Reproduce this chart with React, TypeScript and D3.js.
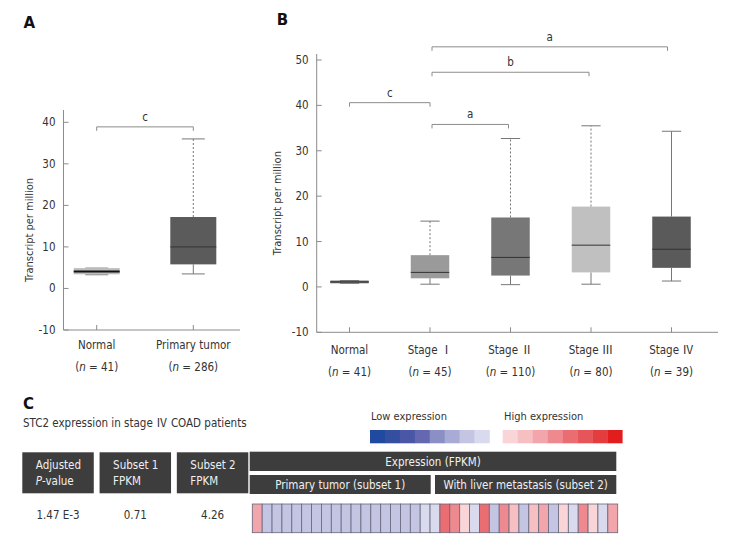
import * as d3 from "d3";

const FONT = "'DejaVu Sans Condensed', 'DejaVu Sans', sans-serif";
const CJK = "'Noto Sans CJK SC', 'Noto Sans CJK JP', sans-serif";
const TEXT = "#333333";
const AXIS = "#8c8c8c";

// Panel A: normal vs primary tumor
const tumorGroups = ["Normal", "Primary tumor"];
const tumorCounts = [41, 286];
const tumorLow = [3.3, 3.5];
const tumorQ1 = [3.4, 5.8];
const tumorMedian = [4.1, 10.0];
const tumorQ3 = [4.9, 17.2];
const tumorHigh = [4.9, 36.0];
const tumorFill = ["#bdbdbd", "#5b5b5b"];
const tumorDotted = [false, true];
const tumorTicks = [-10, 0, 10, 20, 30, 40];
const tumorBrackets = [{ from: 0, to: 1, value: 38.9, label: "c" }];

// Panel B: stages
const stageGroups = ["Normal", "Stage Ⅰ", "Stage Ⅱ", "Stage Ⅲ", "Stage Ⅳ"];
const stageCounts = [41, 45, 110, 80, 39];
const stageLow = [0.8, 0.6, 0.5, 0.6, 1.3];
const stageQ1 = [0.8, 1.9, 2.5, 3.2, 4.2];
const stageMedian = [1.1, 3.2, 6.5, 9.2, 8.3];
const stageQ3 = [1.4, 7.0, 15.3, 17.7, 15.5];
const stageHigh = [1.4, 14.5, 32.7, 35.5, 34.3];
const stageFill = ["#6a6a6a", "#9a9a9a", "#777777", "#c0c0c0", "#5a5a5a"];
const stageDotted = [false, true, true, true, false];
const stageTicks = [-10, 0, 10, 20, 30, 40, 50];
const stageBrackets = [
  { from: 0, to: 1, value: 40.6, label: "c" },
  { from: 1, to: 2, value: 35.8, label: "a" },
  { from: 1, to: 3, value: 47.3, label: "b" },
  { from: 1, to: 4, value: 52.9, label: "a" },
];

// Panel C: heatmap
const lowColors = ["#1f4a9f", "#344f9f", "#4a56a6", "#6468b1", "#8a8fc6", "#a8abd6", "#c3c5e3", "#d9daee"];
const highColors = ["#f9d5d7", "#f6c0c3", "#f2a5aa", "#ee8a8f", "#ea6d72", "#e65559", "#e33d40", "#e21d1e"];
// negative = low expression level (-1 lightest), positive = high expression level
const heatLevels = [
  3, -2, -2, -2, -2, -2, -2, -2, -2, -2, -2, -2, -2, -2, -2, -2, -2, -1, -1,
  5, 4, 1, -1, 5, -2, 4, 2, -2, 2, 3, -2, 1, -1, 4, 1, -1, 3,
];
const tableHeaders = [["Adjusted", "P-value"], ["Subset 1", "FPKM"], ["Subset 2", "FPKM"]];
const tableValues = ["1.47 E-3", "0.71", "4.26"];

function levelColor(v: number) {
  return v < 0 ? lowColors[lowColors.length + v] : highColors[v - 1];
}

// Render roman numerals (U+2160..) with a CJK face, like the original figure
function Roman({ text }: { text: string }) {
  const parts = text.split(/([\u2160-\u216F])/);
  return (
    <>
      {parts.map((s, i) =>
        /[\u2160-\u216F]/.test(s) ? (
          <tspan key={i} fontFamily={CJK}>
            {s}
          </tspan>
        ) : (
          <tspan key={i}>{s}</tspan>
        ),
      )}
    </>
  );
}

interface BoxPanelProps {
  groups: string[];
  counts: number[];
  low: number[];
  q1: number[];
  median: number[];
  q3: number[];
  high: number[];
  fill: string[];
  dotted: boolean[];
  ticks: number[];
  brackets: { from: number; to: number; value: number; label: string }[];
  left: number;
  right: number;
  top: number;
  bottom: number;
  yTop: number;
  yTopValue: number;
  xFirst: number;
  xLast: number;
  boxW: number;
  titleX: number;
  letter: string;
  letterY: number;
  labelY: number;
  countY: number;
  bracketInset: boolean;
}

function BoxPanel(p: BoxPanelProps) {
  const y = d3.scaleLinear().domain([-10, p.yTopValue]).range([p.bottom, p.yTop]);
  const x = d3.scalePoint<number>().domain(d3.range(p.groups.length)).range([p.xFirst, p.xLast]);
  const axisTop = p.top;
  const cap = p.boxW / 2;
  return (
    <g fontFamily={FONT}>
      <text x={p.left - 40} y={p.letterY} fontSize={15} fontWeight="bold" fontFamily="'DejaVu Sans', sans-serif" fill="#111">
        {p.letter}
      </text>
      <line x1={p.left} x2={p.left} y1={axisTop} y2={p.bottom} stroke={AXIS} />
      <line x1={p.left} x2={p.right} y1={p.bottom} y2={p.bottom} stroke={AXIS} />
      {p.ticks.map((t) => (
        <g key={t}>
          <line x1={p.left} x2={p.left + 5} y1={y(t)} y2={y(t)} stroke={AXIS} />
          <text x={p.left - 8} y={y(t)} dy="0.35em" textAnchor="end" fontSize={11.5} fill={TEXT}>
            {t}
          </text>
        </g>
      ))}
      <text
        transform={`translate(${p.titleX}, ${(axisTop + p.bottom) / 2 + 10}) rotate(-90)`}
        textAnchor="middle"
        fontSize={11}
        fill={TEXT}
      >
        Transcript per million
      </text>
      {p.groups.map((g, i) => {
        const cx = x(i) ?? 0;
        return (
          <g key={g}>
            <line x1={cx} x2={cx} y1={p.bottom} y2={p.bottom - 5} stroke={AXIS} />
            <line x1={cx} x2={cx} y1={y(p.q3[i])} y2={y(p.high[i])} stroke="#777" strokeDasharray={p.dotted[i] ? "2 2" : undefined} />
            <line x1={cx} x2={cx} y1={y(p.q1[i])} y2={y(p.low[i])} stroke="#777" />
            <line x1={cx - cap / 2} x2={cx + cap / 2} y1={y(p.high[i])} y2={y(p.high[i])} stroke="#777" />
            <line x1={cx - cap / 2} x2={cx + cap / 2} y1={y(p.low[i])} y2={y(p.low[i])} stroke="#777" />
            <rect
              x={cx - p.boxW / 2}
              y={y(p.q3[i])}
              width={p.boxW}
              height={Math.max(y(p.q1[i]) - y(p.q3[i]), 1)}
              fill={p.fill[i]}
            />
            <line
              x1={cx - p.boxW / 2}
              x2={cx + p.boxW / 2}
              y1={y(p.median[i])}
              y2={y(p.median[i])}
              stroke={i === 0 && p.fill[i] === "#bdbdbd" ? "#111" : "#333"}
              strokeWidth={i === 0 && p.fill[i] === "#bdbdbd" ? 2 : 1}
            />
            <text x={cx} y={p.labelY} textAnchor="middle" fontSize={11.5} fill={TEXT}>
              <Roman text={g} />
            </text>
            <text x={cx} y={p.countY} textAnchor="middle" fontSize={11.5} fill={TEXT}>
              (<tspan fontStyle="italic">n</tspan> = {p.counts[i]})
            </text>
          </g>
        );
      })}
      {p.brackets.map((b, i) => {
        const inset = p.bracketInset && b.from > 0 ? 2 : 0;
        const x1 = (x(b.from) ?? 0) + inset;
        const x2 = (x(b.to) ?? 0) - (p.bracketInset && b.to === p.groups.length - 1 ? 4 : inset);
        const by = y(b.value);
        return (
          <g key={i}>
            <path d={`M${x1},${by + 4}V${by}H${x2}V${by + 4}`} fill="none" stroke={AXIS} />
            <text x={(x1 + x2) / 2} y={by - 6} textAnchor="middle" fontSize={11.5} fill={TEXT}>
              {b.label}
            </text>
          </g>
        );
      })}
    </g>
  );
}

function HeatPanel() {
  const cellX = d3.scaleBand<number>().domain(d3.range(heatLevels.length)).range([252.3, 617.7]);
  const lowX = d3.scaleBand<number>().domain(d3.range(lowColors.length)).range([370, 489.5]);
  const highX = d3.scaleBand<number>().domain(d3.range(highColors.length)).range([502.7, 622.3]);
  const colX = d3.scaleBand<number>().domain(d3.range(tableHeaders.length)).range([22.3, 248.3]).paddingInner(0.075);
  const hy = 452.3;
  const hh = 41;
  return (
    <g fontFamily={FONT}>
      <text x={23} y={409} fontSize={15} fontWeight="bold" fontFamily="'DejaVu Sans', sans-serif" fill="#111">
        C
      </text>
      <text x={23} y={427} fontSize={11.5} fill={TEXT}>
        <Roman text="STC2 expression in stage Ⅳ COAD patients" />
      </text>
      <text x={371} y={420} fontSize={11} fill={TEXT}>
        Low expression
      </text>
      <text x={504} y={420} fontSize={11} fill={TEXT}>
        High expression
      </text>
      {lowColors.map((c, i) => (
        <rect key={"l" + i} x={lowX(i)} y={430} width={lowX.bandwidth() + 0.3} height={13.3} fill={c} />
      ))}
      {highColors.map((c, i) => (
        <rect key={"h" + i} x={highX(i)} y={430} width={highX.bandwidth() + 0.3} height={13.3} fill={c} />
      ))}
      {tableHeaders.map((h, i) => {
        const x0 = colX(i) ?? 0;
        return (
          <g key={i}>
            <rect x={x0} y={hy} width={colX.bandwidth()} height={hh} fill="#3d3d3d" />
            <text x={x0 + 13.5} y={hy + 17} fontSize={11.5} fill="#f0f0f0">
              {h[0]}
            </text>
            <text x={x0 + 13.5} y={hy + 33} fontSize={11.5} fill="#f0f0f0">
              {i === 0 ? (
                <>
                  <tspan fontStyle="italic">P</tspan>-value
                </>
              ) : (
                h[1]
              )}
            </text>
            <text x={x0 + colX.bandwidth() / 2} y={519} textAnchor="middle" fontSize={11.5} fill={TEXT}>
              {tableValues[i]}
            </text>
          </g>
        );
      })}
      <rect x={249.7} y={451.7} width={366.6} height={19.3} fill="#3d3d3d" />
      <text x={433} y={465.5} textAnchor="middle" fontSize={11.5} fill="#f0f0f0">
        Expression (FPKM)
      </text>
      <rect x={249.7} y={475} width={181} height={19} fill="#3d3d3d" />
      <text x={340.2} y={488.5} textAnchor="middle" fontSize={11.5} fill="#f0f0f0">
        Primary tumor (subset 1)
      </text>
      <rect x={435} y={475} width={181.3} height={19} fill="#3d3d3d" />
      <text x={525.6} y={488.5} textAnchor="middle" fontSize={11.5} fill="#f0f0f0">
        With liver metastasis (subset 2)
      </text>
      {heatLevels.map((v, i) => (
        <rect
          key={i}
          x={cellX(i)}
          y={504}
          width={cellX.bandwidth()}
          height={28.7}
          fill={levelColor(v)}
          stroke="#66667a"
          strokeWidth={0.8}
        />
      ))}
    </g>
  );
}

export default function App() {
  return (
    <svg
      width={735}
      height={545}
      viewBox="0 0 735 545"
      style={{ position: "absolute", left: 0, top: 0, background: "#fff", display: "block" }}
    >
      <BoxPanel
        groups={tumorGroups}
        counts={tumorCounts}
        low={tumorLow}
        q1={tumorQ1}
        median={tumorMedian}
        q3={tumorQ3}
        high={tumorHigh}
        fill={tumorFill}
        dotted={tumorDotted}
        ticks={tumorTicks}
        brackets={tumorBrackets}
        left={63.5}
        right={240}
        top={110}
        bottom={330}
        yTop={122.3}
        yTopValue={40}
        xFirst={96.7}
        xLast={193.3}
        boxW={46}
        titleX={33}
        letter="A"
        letterY={28}
        labelY={349}
        countY={371}
        bracketInset={false}
      />
      <BoxPanel
        groups={stageGroups}
        counts={stageCounts}
        low={stageLow}
        q1={stageQ1}
        median={stageMedian}
        q3={stageQ3}
        high={stageHigh}
        fill={stageFill}
        dotted={stageDotted}
        ticks={stageTicks}
        brackets={stageBrackets}
        left={316.7}
        right={718}
        top={54}
        bottom={332.3}
        yTop={60}
        yTopValue={50}
        xFirst={349.5}
        xLast={671.5}
        boxW={38.5}
        titleX={281}
        letter="B"
        letterY={25}
        labelY={354}
        countY={376}
        bracketInset={true}
      />
      <HeatPanel />
    </svg>
  );
}
